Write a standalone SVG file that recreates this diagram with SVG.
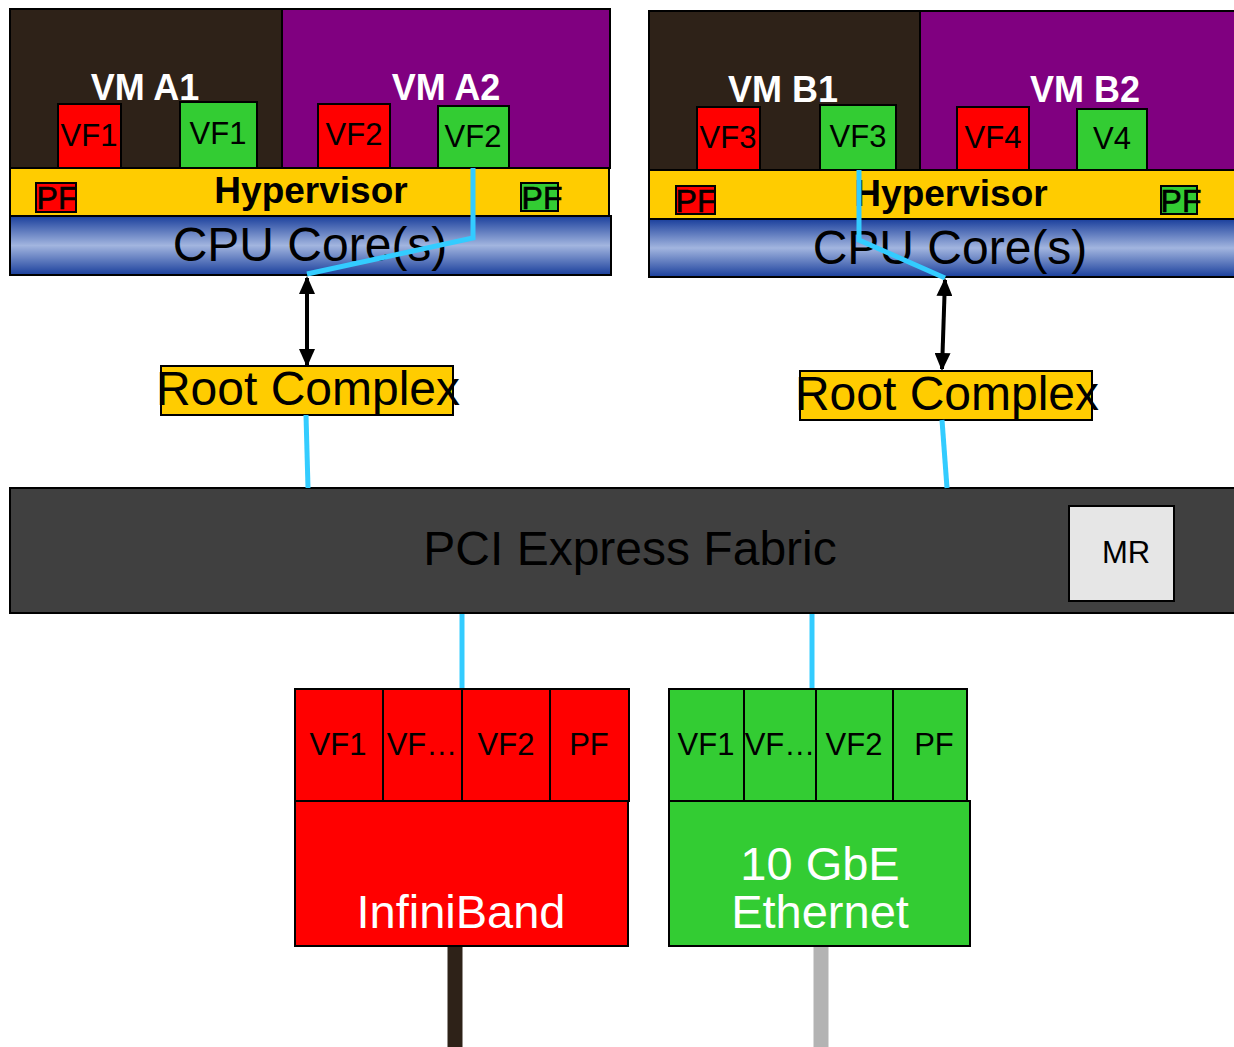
<svg xmlns="http://www.w3.org/2000/svg" width="1234" height="1047" viewBox="0 0 1234 1047">
<defs>
<linearGradient id="cpu" x1="0" y1="0" x2="0" y2="1">
<stop offset="0" stop-color="#1a3f9c"/>
<stop offset="0.5" stop-color="#a2b5df"/>
<stop offset="1" stop-color="#1a3f9c"/>
</linearGradient>
<marker id="ah" viewBox="0 0 18 16" refX="16" refY="8" markerWidth="18" markerHeight="16" orient="auto-start-reverse" markerUnits="userSpaceOnUse">
<path d="M0,0 L18,8 L0,16 z" fill="#000"/>
</marker>
<style>
.bx{stroke:#000;stroke-width:2}
.vm1{fill:#2e2218}
.vm2{fill:#800080}
.red{fill:#ff0000}
.grn{fill:#33cc33}
.yel{fill:#ffcc00}
.t{font-family:"Liberation Sans",Arial,sans-serif;text-anchor:middle}
.vmt{font-size:36px;font-weight:bold;fill:#fff}
.vf{font-size:31px;fill:#000}
.pf{font-size:32px;fill:#000;stroke:#000;stroke-width:0.6}
.hv{font-size:37px;font-weight:bold;fill:#000}
.big{font-size:48px;fill:#000}
.wh{font-size:47px;fill:#fff}
.pcie{stroke:#33ccff;stroke-width:5;fill:none}
.arr{stroke:#000;stroke-width:4;fill:none;marker-start:url(#ah);marker-end:url(#ah)}
</style>
</defs>
<rect width="1234" height="1047" fill="#fff"/>

<g id="hostA">
<rect class="bx vm1" x="10" y="9" width="272" height="159"/>
<rect class="bx vm2" x="282" y="9" width="328" height="159"/>
<text class="t vmt" x="145" y="100">VM A1</text>
<text class="t vmt" x="446" y="100">VM A2</text>
<rect class="bx red" x="58" y="104" width="63" height="64"/>
<text class="t vf" x="89" y="146">VF1</text>
<rect class="bx grn" x="180" y="102" width="77" height="66"/>
<text class="t vf" x="218" y="144">VF1</text>
<rect class="bx red" x="318" y="104" width="72" height="64"/>
<text class="t vf" x="354" y="145">VF2</text>
<rect class="bx grn" x="438" y="106" width="71" height="62"/>
<text class="t vf" x="473" y="147">VF2</text>
<rect class="bx yel" x="10" y="168" width="599" height="48"/>
<text class="t hv" x="311" y="203">Hypervisor</text>
<rect class="bx red" x="36" y="183" width="40" height="29"/>
<text class="t pf" x="57" y="209">PF</text>
<rect class="bx grn" x="521" y="183" width="37" height="28"/>
<text class="t pf" x="542" y="209">PF</text>
<rect class="bx" fill="url(#cpu)" x="10" y="216" width="601" height="59"/>
<text class="t big" x="310" y="261">CPU Core(s)</text>
</g>

<g id="hostB">
<rect class="bx vm1" x="649" y="11" width="271" height="159"/>
<rect class="bx vm2" x="920" y="11" width="320" height="159"/>
<text class="t vmt" x="783" y="102">VM B1</text>
<text class="t vmt" x="1085" y="102">VM B2</text>
<rect class="bx red" x="697" y="107" width="63" height="63"/>
<text class="t vf" x="728" y="148">VF3</text>
<rect class="bx grn" x="820" y="105" width="76" height="65"/>
<text class="t vf" x="858" y="147">VF3</text>
<rect class="bx red" x="957" y="107" width="72" height="63"/>
<text class="t vf" x="993" y="148">VF4</text>
<rect class="bx grn" x="1077" y="109" width="70" height="61"/>
<text class="t vf" x="1112" y="149">V4</text>
<rect class="bx yel" x="649" y="170" width="591" height="49"/>
<text class="t hv" x="951" y="206">Hypervisor</text>
<rect class="bx red" x="676" y="186" width="39" height="28"/>
<text class="t pf" x="696" y="212">PF</text>
<rect class="bx grn" x="1161" y="186" width="36" height="28"/>
<text class="t pf" x="1181" y="212">PF</text>
<rect class="bx" fill="url(#cpu)" x="649" y="219" width="591" height="58"/>
<text class="t big" x="950" y="264">CPU Core(s)</text>
</g>

<g id="rcA">
<rect class="bx yel" x="161" y="366" width="292" height="49"/>
<text class="t big" x="308" y="405">Root Complex</text>
</g>
<g id="rcB">
<rect class="bx yel" x="800" y="371" width="292" height="49"/>
<text class="t big" x="947" y="410">Root Complex</text>
</g>

<g id="fabric">
<rect class="bx" fill="#404040" x="10" y="488" width="1230" height="125"/>
<text class="t" x="630" y="565" font-size="48" fill="#000">PCI Express Fabric</text>
<rect class="bx" fill="#e6e6e6" x="1069" y="506" width="105" height="95"/>
<text class="t" x="1126" y="563" font-size="31" fill="#000">MR</text>
</g>

<g id="infiniband">
<rect class="bx red" x="295" y="801" width="333" height="145"/>
<rect class="bx red" x="295" y="689" width="88" height="112"/>
<rect class="bx red" x="383" y="689" width="79" height="112"/>
<rect class="bx red" x="462" y="689" width="88" height="112"/>
<rect class="bx red" x="550" y="689" width="79" height="112"/>
<text class="t vf" x="338" y="755">VF1</text>
<text class="t vf" x="422" y="755">VF…</text>
<text class="t vf" x="506" y="755">VF2</text>
<text class="t vf" x="589" y="755">PF</text>
<text class="t wh" x="461" y="928">InfiniBand</text>
</g>

<g id="ethernet">
<rect class="bx grn" x="669" y="801" width="301" height="145"/>
<rect class="bx grn" x="669" y="689" width="75" height="112"/>
<rect class="bx grn" x="744" y="689" width="72" height="112"/>
<rect class="bx grn" x="816" y="689" width="77" height="112"/>
<rect class="bx grn" x="893" y="689" width="74" height="112"/>
<text class="t vf" x="706" y="755">VF1</text>
<text class="t vf" x="780" y="755">VF…</text>
<text class="t vf" x="854" y="755">VF2</text>
<text class="t vf" x="934" y="755">PF</text>
<text class="t wh" x="820" y="880">10 GbE</text>
<text class="t wh" x="820" y="928">Ethernet</text>
</g>

<g id="connectors">
<polyline class="pcie" points="473,168 473,238 307,274"/>
<polyline class="pcie" points="859,170 859,240 945,278"/>
<line class="pcie" x1="306" y1="415" x2="308" y2="488"/>
<line class="pcie" x1="942" y1="420" x2="947" y2="488"/>
<line class="pcie" x1="462" y1="614" x2="462" y2="688"/>
<line class="pcie" x1="812" y1="614" x2="812" y2="688"/>
<line class="arr" x1="307" y1="278" x2="307" y2="365"/>
<line class="arr" x1="945" y1="280" x2="942" y2="369"/>
<line x1="455" y1="947" x2="455" y2="1047" stroke="#2e2218" stroke-width="15"/>
<line x1="821" y1="947" x2="821" y2="1047" stroke="#b3b3b3" stroke-width="15"/>
</g>
</svg>
